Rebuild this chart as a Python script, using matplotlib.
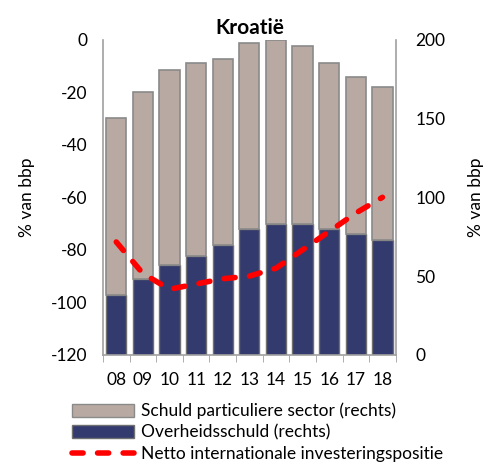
import numpy as np
import matplotlib.pyplot as plt
from matplotlib.patches import Patch
from matplotlib.lines import Line2D

plt.rcParams['font.family'] = ['Lato', 'DejaVu Sans']
plt.rcParams['axes.unicode_minus'] = False

# data
years = ['08', '09', '10', '11', '12', '13', '14', '15', '16', '17', '18']
overheid = [38, 48, 57, 63, 70, 80, 83, 83, 80, 77, 73]          # rechts
totaal = [150, 167, 181, 185, 188, 198, 200, 196, 185, 176, 170]  # rechts, top of stack
niip = [-77, -89, -95, -93, -91, -90, -87, -80, -73, -66, -60]     # links

particulier = [t - o for t, o in zip(totaal, overheid)]

fig = plt.figure(figsize=(4.88, 4.72), dpi=100)
ax = fig.add_axes([0.211, 0.248, 0.600, 0.668])
ax2 = ax.twinx()

x = np.arange(len(years))
ax2.bar(x, overheid, width=0.76, color='#333a6e', edgecolor='#707070', linewidth=1)
ax2.bar(x, particulier, bottom=overheid, width=0.76, color='#b8aaa2', edgecolor='#8a8a8a', linewidth=1.2)
ax2.set_ylim(0, 200)
ax2.set_yticks([0, 50, 100, 150, 200])

dash = (0, (2.0, 2.6))
ax.plot(x, niip, color='#ff0000', linewidth=4, linestyle=dash,
        dash_capstyle='round', zorder=5)
ax.set_ylim(-120, 0)
ax.set_yticks(range(-120, 1, 20))
ax.set_xlim(-0.5, len(years) - 0.5)
ax.set_zorder(ax2.get_zorder() + 1)
ax.patch.set_visible(False)

ax.set_xticks(x)
ax.set_xticklabels(years)
ax.set_xticks(np.arange(-0.5, len(years)), minor=True)
ax.tick_params(axis='x', which='major', length=0, labelsize=12.5, pad=12)
ax.tick_params(axis='x', which='minor', length=5, color='#a0a0a0', direction='out')
ax.tick_params(axis='y', length=0, labelsize=12.5, pad=11)
ax2.tick_params(axis='y', length=0, labelsize=12.5, pad=14)

for a in (ax, ax2):
    for s in a.spines.values():
        s.set_visible(False)
ax.spines['left'].set_visible(True)
ax.spines['bottom'].set_visible(True)
ax2.spines['right'].set_visible(True)
for s in (ax.spines['left'], ax.spines['bottom'], ax2.spines['right']):
    s.set_color('#a0a0a0')
    s.set_linewidth(1.2)

ax.set_ylabel('% van bbp', fontsize=12.5, labelpad=12)
ax2.set_ylabel('% van bbp', fontsize=12.5, labelpad=16)
ax.set_title('Kroatië', fontsize=15, fontweight='bold', pad=4)

handles = [
    Patch(facecolor='#b8aaa2', edgecolor='#8a8a8a', label='Schuld particuliere sector (rechts)'),
    Patch(facecolor='#333a6e', edgecolor='#707070', label='Overheidsschuld (rechts)'),
    Line2D([], [], color='#ff0000', linewidth=4, linestyle=dash,
           dash_capstyle='round', label='Netto internationale investeringspositie'),
]
fig.legend(handles=handles, loc='lower left', bbox_to_anchor=(0.115, -0.012), frameon=False,
           fontsize=12.5, handlelength=3.6, handleheight=0.8, handletextpad=0.4, labelspacing=0.3)

fig.savefig('out.png', dpi=100)
